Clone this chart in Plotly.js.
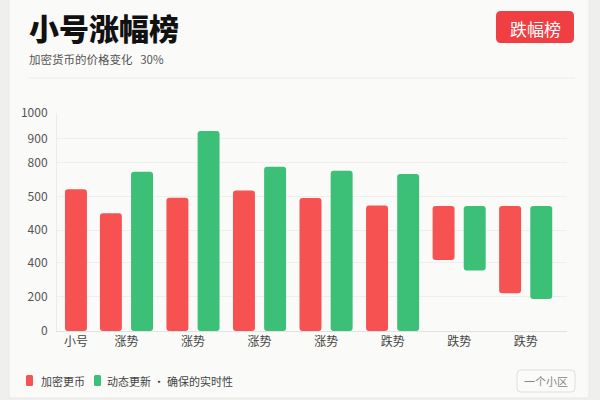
<!DOCTYPE html>
<html>
<head>
<meta charset="utf-8">
<script src="https://cdn.plot.ly/plotly-3.0.1.min.js"></script>
<style>
  html, body { margin: 0; padding: 0; background: #efefed; }
  #myDiv { width: 600px; height: 400px; }
</style>
</head>
<body>
<div id="myDiv"></div>
<script>
var graphDiv = 'myDiv'

// chart values
var categories = ['小号', '涨势', '涨势', '涨势', '涨势', '跌势', '跌势', '跌势']
var seriesNames = ['加密更币', '动态更新 · 确保的实时性']
var redTop = [650, 540, 611, 645, 610, 576, 573, 573]
var redBase = [0, 0, 0, 0, 0, 0, 326, 173]
var greenTop = [null, 731, 917, 754, 735, 720, 573, 573]
var greenBase = [null, 0, 0, 0, 0, 0, 277, 147]
var yTickVals = [0, 156, 312, 463, 615, 771, 881, 1000]
var yTickText = ['0', '200', '400', '400', '500', '800', '900', '1000']

var RED = '#f65252'
var GREEN = '#3cbf76'
var FONT = '"Noto Sans CJK SC", "Noto Sans", sans-serif'

// plot area in pixels, used to place the card decorations
var L = 57, R = 567, T = 113, B = 331
function px(x) { return (x - L) / (R - L) }
function py(y) { return (B - y) / (B - T) }

function roundRect(x0, y0, x1, y1, r) {
  // rounded rectangle path in paper coordinates, given pixel corners
  let p = 'M' + px(x0 + r) + ',' + py(y0)
  p += ' L' + px(x1 - r) + ',' + py(y0)
  p += ' Q' + px(x1) + ',' + py(y0) + ' ' + px(x1) + ',' + py(y0 + r)
  p += ' L' + px(x1) + ',' + py(y1 - r)
  p += ' Q' + px(x1) + ',' + py(y1) + ' ' + px(x1 - r) + ',' + py(y1)
  p += ' L' + px(x0 + r) + ',' + py(y1)
  p += ' Q' + px(x0) + ',' + py(y1) + ' ' + px(x0) + ',' + py(y1 - r)
  p += ' L' + px(x0) + ',' + py(y0 + r)
  p += ' Q' + px(x0) + ',' + py(y0) + ' ' + px(x0 + r) + ',' + py(y0)
  return p + ' Z'
}

// the first group holds a single bar, centred under its label
var xs = categories.map((c, i) => i === 0 ? 0.24 : i)
var barW = 0.33

var red = {
  type: 'bar',
  name: seriesNames[0],
  x: xs,
  y: redTop.map((v, i) => v - redBase[i]),
  base: redBase,
  width: barW,
  offset: xs.map((x, i) => i === 0 ? -barW / 2 : -0.4),
  marker: { color: RED, cornerradius: 3 },
  hoverinfo: 'skip'
}

var green = {
  type: 'bar',
  name: seriesNames[1],
  x: xs,
  y: greenTop.map((v, i) => v === null ? null : v - greenBase[i]),
  base: greenBase,
  width: barW,
  offset: 0.068,
  marker: { color: GREEN, cornerradius: 3 },
  hoverinfo: 'skip'
}

var shapes = [
  // card
  { type: 'rect', xref: 'paper', yref: 'paper', layer: 'below',
    x0: px(9), x1: px(589), y0: py(-5), y1: py(398),
    fillcolor: '#fafaf8', line: { color: '#e9e9e7', width: 1 } },
  // divider under the header
  { type: 'line', xref: 'paper', yref: 'paper', layer: 'below',
    x0: px(28), x1: px(575), y0: py(78), y1: py(78),
    line: { color: '#ececea', width: 1 } },
  // red button
  { type: 'path', xref: 'paper', yref: 'paper',
    path: roundRect(496, 11, 574, 43, 5),
    fillcolor: '#ef3f42', line: { width: 0 } },
  // outline button
  { type: 'path', xref: 'paper', yref: 'paper',
    path: roundRect(517, 370, 575, 392, 4),
    fillcolor: '#fbfbfa', line: { color: '#dedede', width: 1 } },
  // legend swatches
  { type: 'path', xref: 'paper', yref: 'paper',
    path: roundRect(26, 375, 33, 386, 1.5),
    fillcolor: RED, line: { width: 0 } },
  { type: 'path', xref: 'paper', yref: 'paper',
    path: roundRect(94, 375, 101, 386, 1.5),
    fillcolor: GREEN, line: { width: 0 } }
]

var annotations = [
  { xref: 'paper', yref: 'paper', x: px(27), y: py(27), xanchor: 'left', yanchor: 'middle',
    text: '小号涨幅榜', showarrow: false,
    font: { family: FONT, size: 30, weight: 900, color: '#111' } },
  { xref: 'paper', yref: 'paper', x: px(27), y: py(59), xanchor: 'left', yanchor: 'middle',
    text: '加密货币的价格变化   30%', showarrow: false,
    font: { family: FONT, size: 11.5, color: '#555' } },
  { xref: 'paper', yref: 'paper', x: px(535), y: py(28), xanchor: 'center', yanchor: 'middle',
    text: '跌幅榜', showarrow: false,
    font: { family: FONT, size: 17, color: '#fff' } },
  { xref: 'paper', yref: 'paper', x: px(546), y: py(381), xanchor: 'center', yanchor: 'middle',
    text: '一个小区', showarrow: false,
    font: { family: FONT, size: 11, color: '#888' } },
  { xref: 'paper', yref: 'paper', x: px(39), y: py(381), xanchor: 'left', yanchor: 'middle',
    text: seriesNames[0], showarrow: false,
    font: { family: FONT, size: 11, color: '#444' } },
  { xref: 'paper', yref: 'paper', x: px(105), y: py(381), xanchor: 'left', yanchor: 'middle',
    text: seriesNames[1], showarrow: false,
    font: { family: FONT, size: 11, color: '#444' } }
]

var layout = {
  width: 600,
  height: 400,
  margin: { l: L, r: 600 - R, t: T, b: 400 - B, pad: 0 },
  paper_bgcolor: '#efefed',
  plot_bgcolor: 'rgba(0,0,0,0)',
  font: { family: FONT, size: 12, color: '#555' },
  showlegend: false,
  barmode: 'overlay',
  xaxis: {
    range: [-0.045, 7.62],
    tickvals: xs,
    ticktext: categories,
    showgrid: false,
    zeroline: false,
    showline: true,
    linecolor: '#e2e2e2',
    ticks: '',
    tickfont: { family: FONT, size: 12, color: '#444' },
    fixedrange: true
  },
  yaxis: {
    range: [0, 1000],
    tickvals: yTickVals,
    ticktext: yTickText,
    showgrid: true,
    gridcolor: '#eeeeec',
    zeroline: false,
    showline: true,
    linecolor: '#ebebea',
    ticks: '',
    ticklabelstandoff: 6,
    tickfont: { family: FONT, size: 12, color: '#555' },
    fixedrange: true
  },
  shapes: shapes,
  annotations: annotations
}

Plotly.newPlot(graphDiv, [red, green], layout, { displayModeBar: false, staticPlot: true })
</script>
</body>
</html>
